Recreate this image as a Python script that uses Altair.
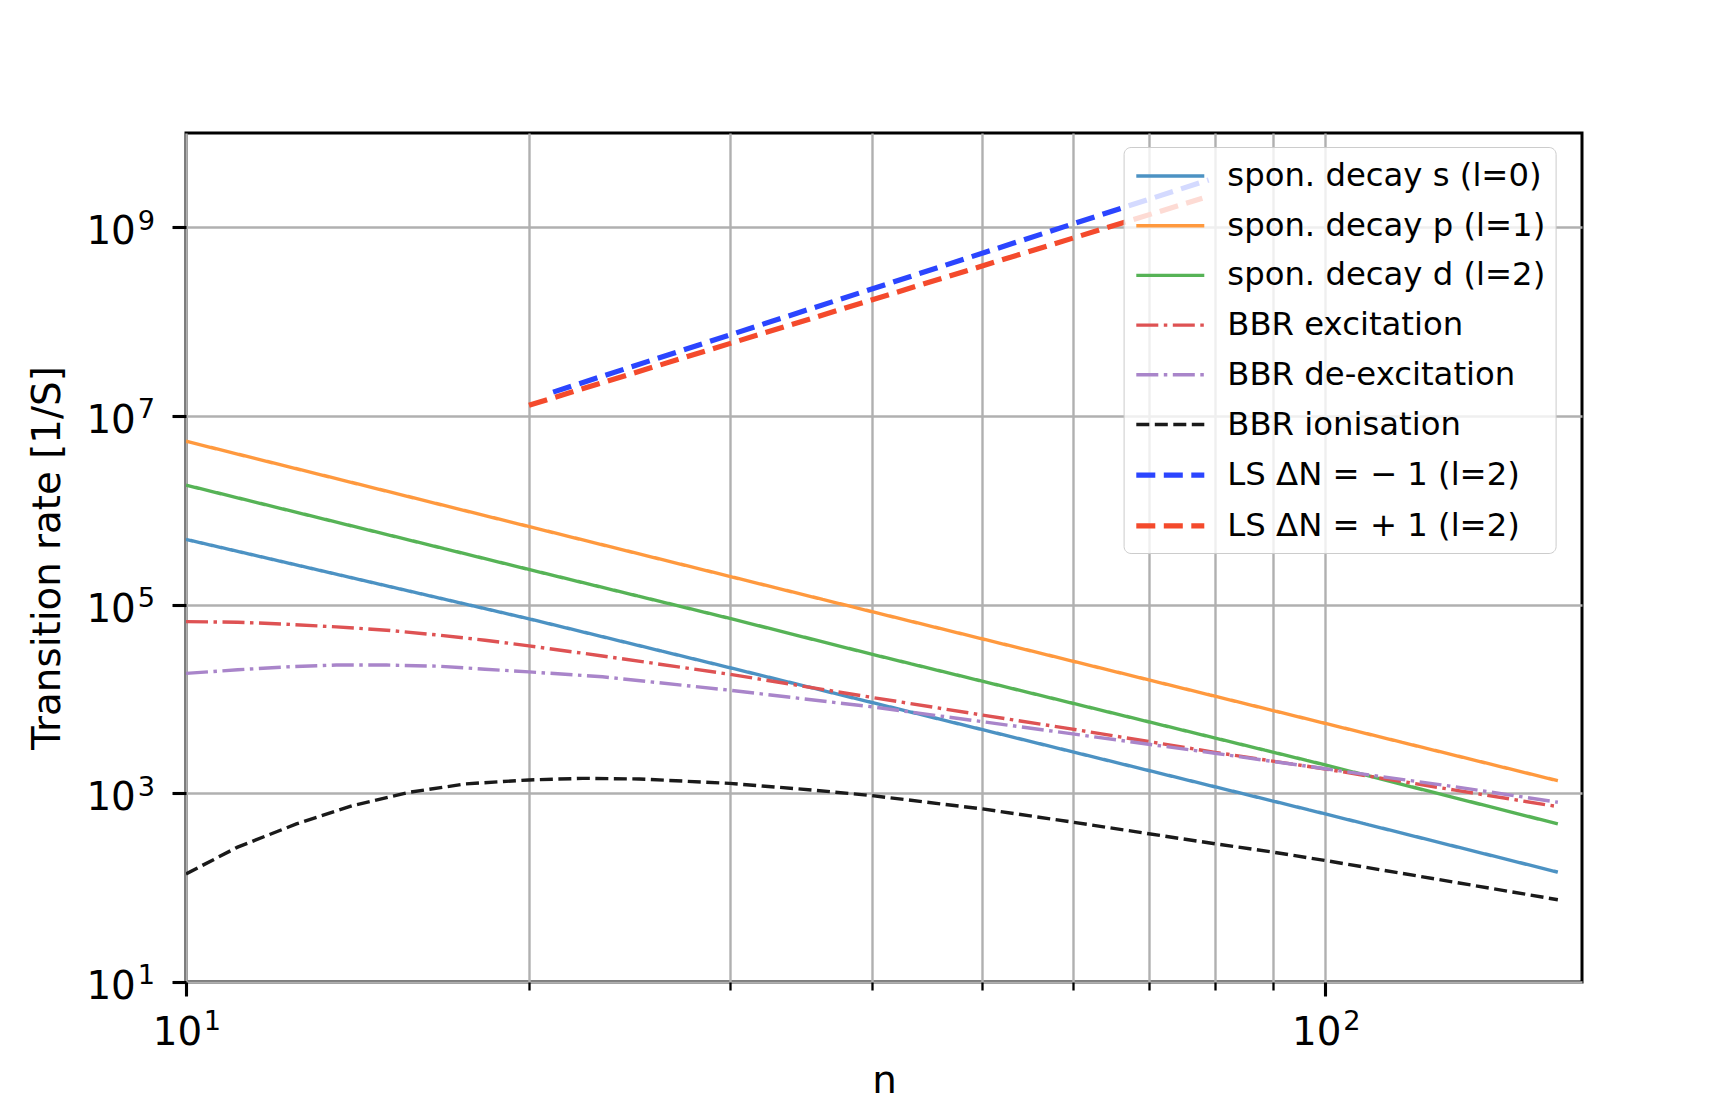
import altair as alt
import pandas as pd

# ---- series definitions (legend order) ----
series_names = [
    "spon. decay s (l=0)",
    "spon. decay p (l=1)",
    "spon. decay d (l=2)",
    "BBR excitation",
    "BBR de-excitation",
    "BBR ionisation",
    "LS ΔN = − 1 (l=2)",
    "LS ΔN = + 1 (l=2)",
]
series_colors = ["#4c92c3", "#ff993e", "#56b356", "#de5253", "#a985ca", "#1a1a1a", "#2b45ff", "#f44a2c"]
series_dash = [[1, 0], [1, 0], [1, 0], [22, 5.5, 3.5, 5.5], [22, 5.5, 3.5, 5.5], [13, 5.5], [19, 8.5], [19, 8.5]]
series_width = [3.4, 3.4, 3.4, 3.4, 3.4, 3.4, 5.2, 5.2]

# ---- values (n, rate in 1/s) ----
n_s = [10, 20, 30, 40, 100, 160]
rate_s = [4.92e5, 7.08e4, 2.15e4, 9.18e3, 605, 146]

n_p = [10, 20, 40, 100, 160]
rate_p = [5.40e6, 6.73e5, 8.43e4, 5.51e3, 1.36e3]

n_d = [10, 20, 30, 40, 100, 160]
rate_d = [1.85e6, 2.36e5, 7.16e4, 2.98e4, 2.0e3, 474]

n_exc = [10, 11.1, 12.25, 13.55, 15, 16.6, 18.3, 20, 23.2, 30, 40, 50, 60, 80, 100, 130, 160]
rate_exc = [66100, 65200, 62100, 58100, 53600, 47800, 42000, 36600, 28600, 18300, 10400, 6760, 4790, 2720, 1810, 1080, 723]

n_deexc = [10, 11.1, 12.25, 13.55, 15, 16.6, 18.3, 20, 23.2, 30, 40, 50, 60, 80, 100, 130, 160]
rate_deexc = [18700, 20400, 21900, 22900, 22900, 22300, 20700, 19400, 17200, 12400, 8260, 5750, 4270, 2660, 1820, 1175, 804]

n_ion = [10, 11.1, 12.5, 14, 15.7, 17.6, 20, 22.3, 25, 30, 35.4, 40, 50, 60, 80, 90, 100, 130, 160]
rate_ion = [140, 269, 474, 741, 1026, 1259, 1387, 1442, 1419, 1276, 1086, 946, 684, 495, 292, 238, 194, 114, 74.5]

n_ls_minus = [21, 79]
rate_ls_minus = [1.79e7, 3.18e9]

n_ls_plus = [20, 78]
rate_ls_plus = [1.30e7, 2.03e9]

# ---- ticks ----
x_tick_values = [10, 20, 30, 40, 50, 60, 70, 80, 90, 100]
x_major_values = [10, 100]
x_major_exponents = ["1", "2"]
y_tick_values = [10, 1e3, 1e5, 1e7, 1e9]
y_tick_exponents = ["1", "3", "5", "7", "9"]

all_n = [n_s, n_p, n_d, n_exc, n_deexc, n_ion, n_ls_minus, n_ls_plus]
all_rate = [rate_s, rate_p, rate_d, rate_exc, rate_deexc, rate_ion, rate_ls_minus, rate_ls_plus]

rows = []
for name, ns, rs in zip(series_names, all_n, all_rate):
    for n, r in zip(ns, rs):
        rows.append({"series": name, "n": n, "rate": r})
df = pd.DataFrame(rows)

FONT = "DejaVu Sans"
TICK_FS = 38.8
SUP_FS = 27.2


def expr_map(values, labels):
    return " : ".join([f"datum.value == {v} ? '{lab}'" for v, lab in zip(values, labels)]) + " : ''"


x_base_expr = expr_map(x_major_values, ["10"] * len(x_major_values))
x_sup_expr = expr_map(x_major_values, x_major_exponents)
y_base_expr = expr_map(y_tick_values, ["10"] * len(y_tick_values))
y_sup_expr = expr_map(y_tick_values, y_tick_exponents)
major_test = " || ".join([f"datum.value == {v}" for v in x_major_values])

x_scale = alt.Scale(type="log", domain=[10, 168], nice=False)
y_scale = alt.Scale(type="log", domain=[10, 1e10], nice=False)

legend = alt.Legend(
    title=None,
    orient="none",
    legendX=937.6,
    legendY=14,
    symbolType="M-2,0H2",
    symbolSize=1156,
    symbolOffset=16.7,
    labelOffset=37,
    labelFont=FONT,
    labelFontSize=32.3,
    labelColor="black",
    labelLimit=800,
    rowPadding=13.7,
    padding=10,
    fillColor="rgba(255,255,255,0.8)",
    strokeColor="#cccccc",
    cornerRadius=7,
)

x_axis = alt.Axis(
    values=x_tick_values,
    labelExpr=x_base_expr,
    tickSize={"condition": {"test": major_test, "value": 14}, "value": 8},
    tickWidth={"condition": {"test": major_test, "value": 3.1}, "value": 2.3},
    tickColor="black",
    grid=True,
    gridColor="#b0b0b0",
    gridWidth=2.4,
    domain=False,
    labelFont=FONT,
    labelFontSize=TICK_FS,
    labelColor="black",
    labelPadding=17.5,
    labelOffset=-9,
    labelFlush=False,
    labelOverlap=False,
    titleFont=FONT,
    titleFontSize=TICK_FS,
    titleFontWeight="normal",
    titleColor="black",
    titlePadding=9,
)

y_axis = alt.Axis(
    values=y_tick_values,
    labelExpr=y_base_expr,
    tickSize=14,
    tickWidth=3.1,
    tickColor="black",
    grid=True,
    gridColor="#b0b0b0",
    gridWidth=2.4,
    domain=False,
    labelFont=FONT,
    labelFontSize=TICK_FS,
    labelColor="black",
    labelPadding=36.7,
    labelOffset=4.4,
    labelFlush=False,
    labelOverlap=False,
    titleFont=FONT,
    titleFontSize=TICK_FS,
    titleFontWeight="normal",
    titleColor="black",
    titlePadding=18,
)

x_sup_axis = alt.Axis(
    orient="bottom",
    values=x_major_values,
    labelExpr=x_sup_expr,
    ticks=False,
    grid=False,
    domain=False,
    labelFont=FONT,
    labelFontSize=SUP_FS,
    labelColor="black",
    labelPadding=26.8,
    labelOffset=26,
    labelFlush=False,
    labelOverlap=False,
)

y_sup_axis = alt.Axis(
    orient="left",
    values=y_tick_values,
    labelExpr=y_sup_expr,
    ticks=False,
    grid=False,
    domain=False,
    labelFont=FONT,
    labelFontSize=SUP_FS,
    labelColor="black",
    labelPadding=31.5,
    labelOffset=-6.2,
    labelFlush=False,
    labelOverlap=False,
)

lines = (
    alt.Chart(df)
    .mark_line(clip=True, strokeCap="butt")
    .encode(
        x=alt.X("n:Q", title="n", scale=x_scale, axis=x_axis),
        y=alt.Y("rate:Q", title="Transition rate [1/S]", scale=y_scale, axis=y_axis),
        color=alt.Color("series:N", scale=alt.Scale(domain=series_names, range=series_colors), legend=legend),
        strokeDash=alt.StrokeDash(
            "series:N", scale=alt.Scale(domain=series_names, range=series_dash), legend=legend
        ),
        strokeWidth=alt.StrokeWidth(
            "series:N", scale=alt.Scale(type="ordinal", domain=series_names, range=series_width), legend=legend
        ),
        order=alt.Order("n:Q"),
    )
)

exponents = (
    alt.Chart(df)
    .mark_point(opacity=0)
    .encode(
        x=alt.X("n:Q", title=None, scale=x_scale, axis=x_sup_axis),
        y=alt.Y("rate:Q", title=None, scale=y_scale, axis=y_sup_axis),
    )
)

chart = (
    alt.layer(lines, exponents)
    .resolve_axis(x="independent", y="independent")
    .properties(
        width=1396,
        height=849,
        autosize=alt.AutoSizeParams(type="none"),
        padding={"left": 178, "top": 125, "right": 100, "bottom": 120},
        background="white",
    )
    .configure_view(stroke="black", strokeWidth=3)
)

chart.save("out.html", embed_options={"renderer": "svg", "actions": False})
